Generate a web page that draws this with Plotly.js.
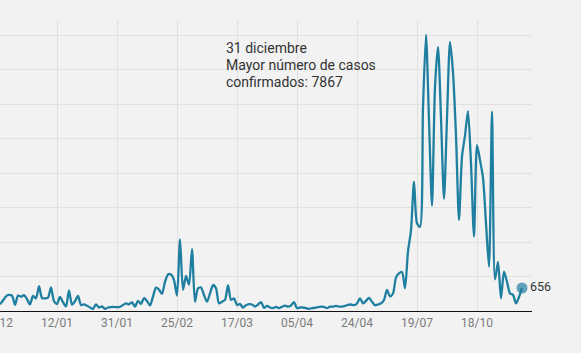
<!DOCTYPE html>
<html><head><meta charset="utf-8">
<script src="https://cdn.plot.ly/plotly-3.0.1.min.js"></script>
<style>
html,body{margin:0;padding:0;background:#f2f2f2;overflow:hidden;width:581px;height:353px;}
#chart{position:absolute;left:-40px;top:0;width:621px;height:353px;}
</style>
</head><body><div id="chart"></div>
<script>
// daily confirmed cases
const cases = [
  190,300,420,460,440,175,440,410,450,340,
  190,430,360,705,370,360,380,670,280,200,
  400,250,130,590,180,280,430,170,190,150,
  100,60,190,100,130,60,100,110,115,110,
  120,170,215,190,245,125,290,200,370,285,
  160,410,665,610,490,830,1040,1040,880,440,
  2040,600,1000,750,1760,260,650,670,455,265,
  500,740,650,215,265,315,740,315,360,170,
  200,100,165,195,185,125,185,255,90,145,
  100,80,120,80,120,155,125,155,255,80,
  100,100,80,60,80,90,110,125,115,80,
  125,125,145,125,125,145,175,185,165,215,
  360,215,290,370,265,165,185,220,315,600,
  420,500,950,1070,1110,645,1700,2300,3690,2500,
  2400,5800,7867,5440,3000,6390,7530,5500,3200,5500,
  7670,6800,5000,2600,4400,5000,5700,4200,2120,4730,
  4300,3800,2500,1260,5680,900,1400,360,1120,830,
  500,460,220,400,656
];
const tickLabels = ['24/12','12/01','31/01','25/02','17/03','05/04','24/04','19/07','18/10'];
const tickIndex = [-1,19,39,59,79,99,119,139,159];
const noteLines = ['31 diciembre','Mayor número de casos','confirmados: 7867'];
const peakValue = 7867;

const xs = cases.map((_, i) => i);
const last = cases.length - 1;
const lineColor = '#1f7fa0';

const traces = [
  {
    x: xs, y: cases, type: 'scatter', mode: 'lines',
    line: {color: lineColor, width: 2.3, shape: 'spline', smoothing: 0.7},
    hoverinfo: 'skip'
  },
  {
    x: [xs[last]], y: [cases[last]], type: 'scatter', mode: 'markers+text',
    marker: {color: 'rgba(31,127,160,0.7)', size: 11},
    text: [String(cases[last])], textposition: 'middle right',
    textfont: {family: 'Roboto', size: 12.5, color: '#333'},
    cliponaxis: false, hoverinfo: 'skip'
  }
];

const noteY = [0.9027, 0.8454, 0.7880];
const annotations = noteLines.map((t, k) => ({
  text: t, xref: 'paper', yref: 'paper', x: 0.462, y: noteY[k],
  xanchor: 'left', yanchor: 'middle', showarrow: false,
  font: {family: 'Roboto', size: 14, color: '#333'}
}));

const layout = {
  width: 621, height: 353,
  margin: {l: 0, r: 49, t: 20, b: 42, pad: 0},
  paper_bgcolor: '#f2f2f2', plot_bgcolor: '#f2f2f2',
  showlegend: false,
  font: {family: 'Roboto', color: '#333'},
  xaxis: {
    range: [-13.333, 177.333], tickmode: 'array', tickvals: tickIndex, ticktext: tickLabels,
    showgrid: true, gridcolor: '#e1e1e1', gridwidth: 1,
    showline: true, linecolor: '#111', linewidth: 1.3,
    zeroline: false, ticks: '',
    tickfont: {family: 'Roboto', size: 12, color: '#7a7a7a'}
  },
  yaxis: {
    range: [0, peakValue * 291 / 276], tick0: 0, dtick: peakValue / 8,
    showgrid: true, gridcolor: '#e1e1e1', gridwidth: 1,
    showticklabels: false, zeroline: false, showline: false, ticks: ''
  },
  annotations: annotations
};

Plotly.newPlot('chart', traces, layout, {displayModeBar: false, staticPlot: true});
</script>
</body></html>
